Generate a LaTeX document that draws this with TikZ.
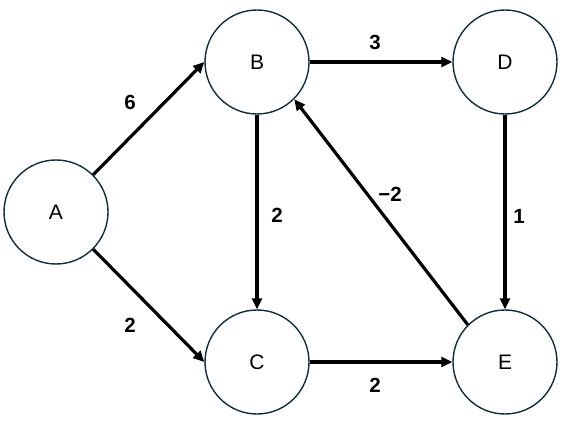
\documentclass[tikz,border=0pt]{standalone}
\usepackage{fontspec}
\setmainfont{Liberation Sans}
\usetikzlibrary{arrows.meta}
\definecolor{ringcol}{HTML}{0F2D3C}
\begin{document}
\begin{tikzpicture}[x=1pt,y=1pt,>={Triangle[length=11pt,width=10pt]}, line join=round,
  vertex/.style={circle,draw=ringcol,line width=1.4pt,minimum size=104pt,inner sep=0pt,font=\fontsize{21}{25}\selectfont},
  wt/.style={font=\fontsize{20.5}{24}\selectfont\bfseries},
  edge/.style={->,line width=3.2pt}]
\useasboundingbox (0,0) rectangle (577,423);
\node[vertex] (A) at (56,211) {A};
\node[vertex] (B) at (257,361) {B};
\node[vertex] (D) at (505,361) {D};
\node[vertex] (C) at (257,61) {C};
\node[vertex] (E) at (505,61) {E};
% edges
\draw[edge] (A.north east)--(B.west) ;
\draw[edge] (A.south east)--(C.west) ;
\draw[edge] (B.east)--(D.west) ;
\draw[edge] (B.south)--(C.north) ;
\draw[edge] (D.south)--(E.north) ;
\draw[edge] (C.east)--(E.west) ;
\draw[edge] (E.north west)--(B.south east) ;
% weights
\node[wt] (wab) at (130,321) {6};
\node[wt] (wac) at (130,98) {2};
\node[wt] (wbd) at (375,381) {3};
\node[wt] (wbc) at (277,208) {2};
\node[wt] (web) at (390,229) {−2};
\node[wt] (wde) at (519,207) {1};
\node[wt] (wce) at (375,38) {2};
\end{tikzpicture}
\end{document}
